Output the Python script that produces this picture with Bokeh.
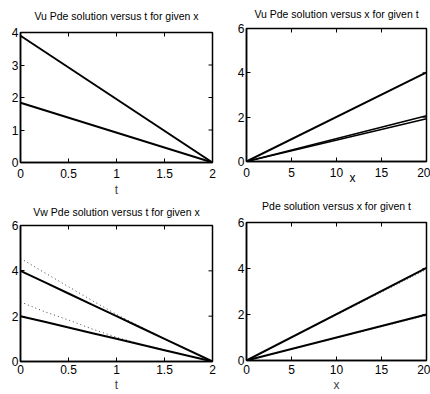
import math
from bokeh.plotting import figure
from bokeh.models import Range1d, FixedTicker, LinearAxis, Title
from bokeh.layouts import column, row
from bokeh.embed import file_html
from bokeh.resources import INLINE

# ---- data ----
t_end = [0, 2]
vu_t_upper = [3.9, 0]
vu_t_lower = [1.84, 0]

x_end = [0, 20]
vu_x_a = [0, 4.02]
vu_x_b = [0, 2.06]
vu_x_c = [0, 1.93]

vw_t = [0, 0.25, 0.5, 0.75, 1.0, 1.25, 1.5, 2.0]
vw_upper_exact = [4.0, 3.5, 3.0, 2.5, 2.0, 1.5, 1.0, 0.0]
vw_lower_exact = [2.0, 1.75, 1.5, 1.25, 1.0, 0.75, 0.5, 0.0]
vw_upper_num = [4.55, 3.92, 3.3, 2.68, 2.08, 1.53, 1.01, 0.0]
vw_lower_num = [2.63, 2.2, 1.83, 1.43, 1.07, 0.77, 0.51, 0.0]

pde_x_upper = [0, 4.03]
pde_x_lower = [0, 2.0]
pde_x_upper_num = [0, 3.96]
pde_x_lower_num = [0, 1.96]

t_ticks = [0, 0.5, 1, 1.5, 2]
x_ticks = [0, 5, 10, 15, 20]
y4_ticks = [0, 1, 2, 3, 4]
y6_ticks = [0, 2, 4, 6]

titles = ["Vu Pde solution versus t for given x",
          "Vu Pde solution versus x for given t",
          "Vw Pde solution versus t for given x",
          "Pde solution versus x for given t"]

FONT = "Liberation Sans"
TICK_FS = "12px"
TITLE_FS = "10.5px"


def panel(w, h, xr, yr, xt, yt, borders, title, title_standoff, xlabel,
          tick_standoff, xlabel_standoff):
    bl, br, bt, bb = borders
    p = figure(width=w, height=h, x_range=Range1d(*xr), y_range=Range1d(*yr),
               output_backend="svg", toolbar_location=None,
               min_border_left=bl, min_border_right=br,
               min_border_top=bt, min_border_bottom=bb,
               x_axis_location=None, y_axis_location=None)
    p.grid.visible = False
    p.outline_line_color = "black"
    p.outline_line_width = 1.5
    p.background_fill_color = "white"
    p.border_fill_color = "white"

    p.title.text = title
    p.title.align = "center"
    p.title.vertical_align = "top"
    p.title.text_font = FONT
    p.title.text_font_size = TITLE_FS
    p.title.text_font_style = "normal"
    p.title.text_color = "black"
    p.title.standoff = title_standoff

    def styled(axis):
        axis.axis_line_color = "black"
        axis.axis_line_width = 1.5
        axis.major_tick_in = 4
        axis.major_tick_out = 0
        axis.major_tick_line_width = 1
        axis.minor_tick_line_color = None
        axis.major_label_text_font = FONT
        axis.major_label_text_font_size = TICK_FS
        axis.major_label_text_color = "black"
        return axis

    bottom = styled(LinearAxis(ticker=FixedTicker(ticks=xt)))
    bottom.major_label_standoff = tick_standoff
    if xlabel:
        bottom.axis_label = xlabel
        bottom.axis_label_text_font = FONT
        bottom.axis_label_text_font_size = TICK_FS
        bottom.axis_label_text_font_style = "normal"
        bottom.axis_label_standoff = xlabel_standoff
    left = styled(LinearAxis(ticker=FixedTicker(ticks=yt)))
    left.major_label_standoff = 2
    p.add_layout(bottom, "below")
    p.add_layout(left, "left")

    # inward ticks on the top and right edges (outer half clipped by the frame)
    p.scatter(x=xt, y=[yr[1]] * len(xt), marker="dash", size=8,
              angle=math.pi / 2, line_color="black", line_width=1)
    p.scatter(x=[xr[1]] * len(yt), y=yt, marker="dash", size=8,
              angle=0, line_color="black", line_width=1)
    return p


# top-left
p1 = panel(234, 199, (0, 2), (0, 4), t_ticks, y4_ticks, (20, 22, 32, 36),
           titles[0], 17, "t", 6, 2)
p1.line(t_end, vu_t_upper, line_color="black", line_width=2)
p1.line(t_end, vu_t_lower, line_color="black", line_width=2)

# bottom-left
p3 = panel(234, 195, (0, 2), (0, 6), t_ticks, y6_ticks, (20, 22, 26, 32),
           titles[2], 11, "t", 3, 1)
p3.line(vw_t, vw_upper_num, line_color="#444444", line_width=1, line_dash="1 3")
p3.line(vw_t, vw_lower_num, line_color="#444444", line_width=1, line_dash="1 3")
p3.line(vw_t, vw_upper_exact, line_color="black", line_width=2)
p3.line(vw_t, vw_lower_exact, line_color="black", line_width=2)

# top-right ("x" label sits between the tick labels, right of centre)
p2 = panel(196, 190, (0, 20), (0, 6), x_ticks, y6_ticks, (12, 4, 28, 29),
           titles[1], 13, None, 6, 0)
p2.add_layout(Title(text="x", align="left", offset=103, vertical_align="top",
                    standoff=-17, text_font=FONT, text_font_size=TICK_FS,
                    text_font_style="normal", text_color="black"), "below")
p2.line(x_end, vu_x_a, line_color="black", line_width=2)
p2.line(x_end, vu_x_b, line_color="black", line_width=1.5)
p2.line(x_end, vu_x_c, line_color="black", line_width=1.5)

# bottom-right
p4 = panel(196, 204, (0, 20), (0, 6), x_ticks, y6_ticks, (12, 4, 32, 34),
           titles[3], 17, "x", 4, 1)
p4.line(x_end, pde_x_upper_num, line_color="#666666", line_width=1, line_dash="1 2")
p4.line(x_end, pde_x_lower_num, line_color="#666666", line_width=1, line_dash="1 2")
p4.line(x_end, pde_x_upper, line_color="black", line_width=2)
p4.line(x_end, pde_x_lower, line_color="black", line_width=2)

layout = row(column(p1, p3), column(p2, p4))
open("out.html", "w").write(file_html(layout, INLINE))
